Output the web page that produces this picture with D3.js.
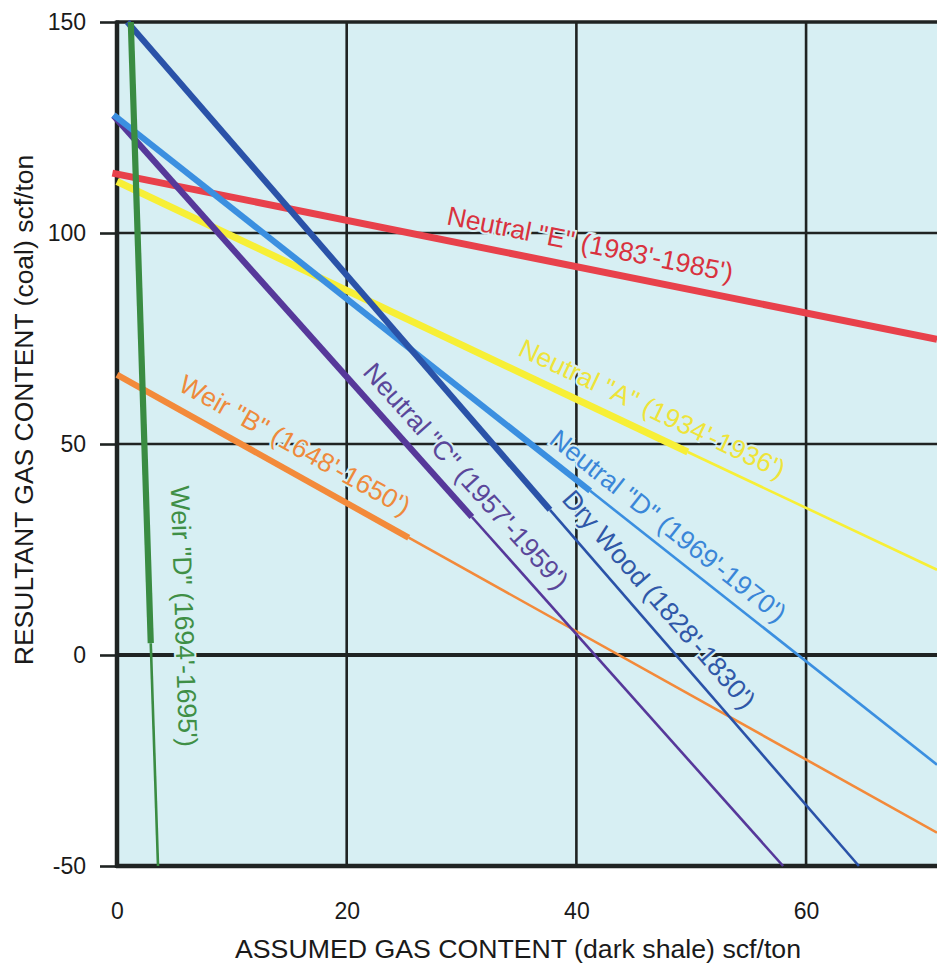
<!DOCTYPE html>
<html><head><meta charset="utf-8">
<script src="https://cdn.jsdelivr.net/npm/d3@7"></script>
<style>
body{margin:0;background:#fff}
svg{display:block}
text{font-family:"Liberation Sans",Arial,Helvetica,sans-serif}
</style>
</head><body>
<svg id="c" width="937" height="963"></svg>
<script>
// ---- data ----
const xTicks = [0, 20, 40, 60];
const yTicks = [-50, 0, 50, 100, 150];
const xTitle = "ASSUMED GAS CONTENT (dark shale) scf/ton";
const yTitle = "RESULTANT GAS CONTENT (coal) scf/ton";

const seriesKeys = ["E", "A", "B", "C", "D", "DW", "WD"];
const seriesLabels = [
  "Neutral \"E\" (1983'-1985')",
  "Neutral \"A\" (1934'-1936')",
  "Weir \"B\" (1648'-1650')",
  "Neutral \"C\" (1957'-1959')",
  "Neutral \"D\" (1969'-1970')",
  "Dry Wood (1828'-1830')",
  "Weir \"D\" (1694'-1695')"
];
// start of line, end of thick (measured) segment, end of thin extension  [x, y]
const lineStart = [[-0.4, 114.2], [0, 112.2], [0, 66.4], [-0.3, 127.8], [-0.3, 128.0], [0.9, 150], [1.2, 150]];
const thickEnd  = [[71.4, 74.8], [49.7, 48.1], [25.4, 27.8], [30.9, 32.7], [41.2, 38.9], [37.7, 34.4], [2.94, 2.8]];
const lineEnd   = [[71.4, 74.8], [71.4, 20.2], [71.4, -42.1], [58.0, -50], [71.4, -26.0], [64.6, -50], [3.57, -50]];
// label centre, in data units
const labelAt   = [[41.2, 97.4], [46.6, 58.4], [15.5, 49.8], [30.4, 42.4], [48.0, 30.6], [47.2, 13.2], [5.85, 9.2]];
const lineColors  = ["#e8414b", "#f7ef36", "#f38a3a", "#56389a", "#3b8fe0", "#2a52a8", "#3a8c42"];
const labelColors = ["#d9323e", "#eee43a", "#ee8a3c", "#5a479a", "#3a86d8", "#2f58a8", "#3f8f46"];
const drawOrder = ["E", "A", "B", "C", "D", "DW", "WD"];

// ---- layout ----
const mLeft = 117, mRight = 937, mTop = 22, mBottom = 866;
const bg = "#d7eff3";

const svg = d3.select("#c");
const x = d3.scaleLinear().domain([0, 71.4]).range([mLeft, mRight]);
const y = d3.scaleLinear().domain([-50, 150]).range([mBottom, mTop]);

svg.append("rect").attr("x", mLeft).attr("y", mTop).attr("width", mRight - mLeft).attr("height", mBottom - mTop).attr("fill", bg);

svg.append("defs").append("clipPath").attr("id", "plot")
  .append("rect").attr("x", mLeft - 6).attr("y", mTop - 2).attr("width", mRight - mLeft + 6).attr("height", mBottom - mTop + 4);

// grid
const grid = svg.append("g").attr("stroke", "#1f2322");
grid.selectAll("line.v").data(xTicks.filter(d => d > 0)).join("line")
  .attr("x1", d => x(d)).attr("x2", d => x(d)).attr("y1", mTop).attr("y2", mBottom)
  .attr("stroke-width", 2.6);
grid.selectAll("line.h").data(yTicks.filter(d => d > -50 && d < 150)).join("line")
  .attr("x1", mLeft).attr("x2", mRight).attr("y1", d => y(d)).attr("y2", d => y(d))
  .attr("stroke-width", d => d === 0 ? 4.2 : 2.6);
// frame
grid.append("line").attr("x1", mLeft - 1).attr("x2", mRight).attr("y1", y(150)).attr("y2", y(150)).attr("stroke-width", 3.5);
grid.append("line").attr("x1", mLeft - 1).attr("x2", mRight).attr("y1", y(-50)).attr("y2", y(-50)).attr("stroke-width", 4.5);
grid.append("line").attr("x1", mLeft).attr("x2", mLeft).attr("y1", mTop - 1.5).attr("y2", mBottom + 2).attr("stroke-width", 4.5);

// y axis ticks & labels via d3 axis
const yAxis = svg.append("g").attr("transform", `translate(${mLeft},0)`)
  .call(d3.axisLeft(y).tickValues(yTicks).tickSize(17).tickPadding(14).tickFormat(d => String(d)));
yAxis.select(".domain").remove();
yAxis.selectAll(".tick line").attr("stroke", "#1f2322").attr("stroke-width", 2.6);
yAxis.selectAll(".tick text").attr("fill", "#1a1a1a").style("font-size", "23px")
  .style("font-family", "'Liberation Sans',Arial,sans-serif");

const xAxis = svg.append("g").attr("transform", `translate(0,${mBottom})`)
  .call(d3.axisBottom(x).tickValues(xTicks).tickSize(0).tickPadding(37).tickFormat(d => String(d)));
xAxis.select(".domain").remove();
xAxis.selectAll(".tick text").attr("fill", "#1a1a1a").style("font-size", "23px")
  .style("font-family", "'Liberation Sans',Arial,sans-serif");

// titles
svg.append("text").attr("x", 518).attr("y", 958).attr("text-anchor", "middle")
  .attr("fill", "#1a1a1a").style("font-size", "26.7px").text(xTitle);
svg.append("text").attr("transform", "translate(33,410) rotate(-90)").attr("text-anchor", "middle")
  .attr("fill", "#1a1a1a").style("font-size", "26.5px").text(yTitle);

// series lines
const lines = svg.append("g").attr("clip-path", "url(#plot)");
const line = d3.line().x(d => x(d[0])).y(d => y(d[1]));
drawOrder.forEach(k => {
  const i = seriesKeys.indexOf(k);
  const g = lines.append("g");
  g.append("path").attr("d", line([thickEnd[i], lineEnd[i]]))
    .attr("fill", "none").attr("stroke", lineColors[i]).attr("stroke-width", 2.6);
  g.append("path").attr("d", line([lineStart[i], thickEnd[i]]))
    .attr("fill", "none").attr("stroke", lineColors[i]).attr("stroke-width", k === "E" || k === "A" ? 7 : 6.2);
});

// labels
seriesKeys.forEach((k, i) => {
  const p0 = lineStart[i], p1 = lineEnd[i];
  const ang = Math.atan2(y(p1[1]) - y(p0[1]), x(p1[0]) - x(p0[0])) * 180 / Math.PI;
  svg.append("text")
    .attr("transform", `translate(${x(labelAt[i][0])},${y(labelAt[i][1])}) rotate(${ang})`)
    .attr("text-anchor", "middle").attr("dy", "0.35em")
    .attr("fill", labelColors[i])
    .attr("stroke", bg).attr("stroke-width", 4).attr("paint-order", "stroke")
    .style("font-size", "26.5px")
    .text(seriesLabels[i]);
});
</script>
</body></html>
